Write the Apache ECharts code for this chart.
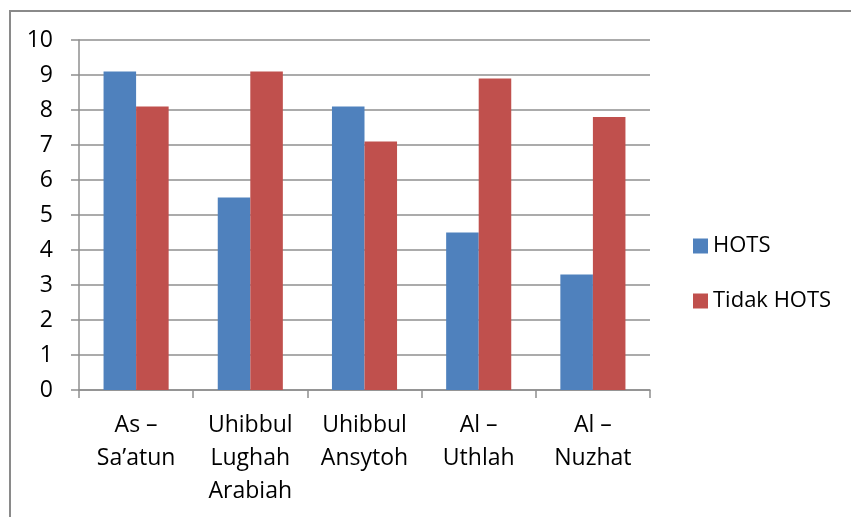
<!DOCTYPE html>
<html>
<head>
<meta charset="utf-8">
<script src="https://cdn.jsdelivr.net/npm/echarts@6/dist/echarts.min.js"></script>
<style>
  html, body { margin: 0; padding: 0; background: #fff; }
  #chart { width: 851px; height: 517px; }
</style>
</head>
<body>
<div id="chart"></div>
<script>
// data
var categories = ['As –\nSa’atun', 'Uhibbul\nLughah\nArabiah', 'Uhibbul\nAnsytoh', 'Al –\nUthlah', 'Al –\nNuzhat'];
var seriesNames = ['HOTS', 'Tidak HOTS'];
var hotsValues = [9.1, 5.5, 8.1, 4.5, 3.3];
var tidakHotsValues = [8.1, 9.1, 7.1, 8.9, 7.8];
var yTicks = [0, 1, 2, 3, 4, 5, 6, 7, 8, 9, 10];

var font = '"Open Sans", "Liberation Sans", sans-serif';
var gridColor = '#8f8f8f';

var chart = echarts.init(document.getElementById('chart'), null, {renderer: 'canvas'});

var option = {
  animation: false,
  backgroundColor: '#fff',
  color: ['#4F81BD', '#C0504D'],
  // outer frame of the chart area (runs off the right and bottom edges)
  graphic: [{
    type: 'rect',
    silent: true,
    shape: {x: 10, y: 11, width: 900, height: 600},
    style: {fill: 'none', stroke: '#8a8a8a', lineWidth: 2}
  }],
  grid: {left: 79, right: 201, top: 40, bottom: 127},
  legend: {
    orient: 'vertical',
    left: 693,
    top: 235,
    padding: 0,
    itemWidth: 15,
    itemHeight: 15,
    itemGap: 33,
    icon: 'rect',
    data: seriesNames,
    textStyle: {fontFamily: font, fontSize: 22, color: '#000', lineHeight: 15, padding: [0, 0, 0, 0]}
  },
  xAxis: {
    type: 'category',
    data: categories,
    axisLine: {lineStyle: {color: gridColor, width: 1.5}},
    axisTick: {show: true, length: 8, lineStyle: {color: gridColor, width: 1.5}},
    axisLabel: {
      fontFamily: font, fontSize: 23, color: '#000', lineHeight: 33, margin: 19, interval: 0
    }
  },
  yAxis: {
    type: 'value',
    min: 0,
    max: yTicks[yTicks.length - 1],
    interval: 1,
    axisLine: {show: true, lineStyle: {color: gridColor, width: 1.5}},
    axisTick: {show: true, length: 8, lineStyle: {color: gridColor, width: 1.5}},
    axisLabel: {fontFamily: font, fontSize: 23, color: '#000', margin: 26},
    splitLine: {lineStyle: {color: gridColor, width: 1.5}}
  },
  series: [
    {
      name: seriesNames[0],
      type: 'bar',
      data: hotsValues,
      barGap: '0%',
      barCategoryGap: '43%'
    },
    {
      name: seriesNames[1],
      type: 'bar',
      data: tidakHotsValues,
      barGap: '0%',
      barCategoryGap: '43%'
    }
  ]
};

chart.setOption(option);
</script>
</body>
</html>
